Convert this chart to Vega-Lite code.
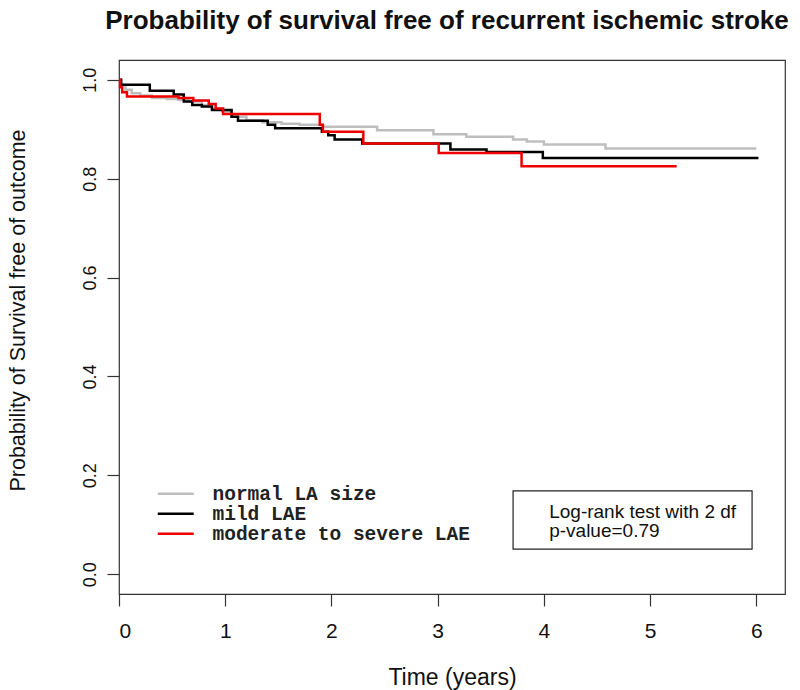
{
  "$schema": "https://vega.github.io/schema/vega-lite/v6.json",
  "width": 666,
  "height": 534,
  "autosize": "none",
  "padding": {"left": 119, "top": 60, "right": 15, "bottom": 96},
  "background": "white",
  "title": {
    "text": "Probability of survival free of recurrent ischemic stroke",
    "font": "Liberation Sans",
    "fontSize": 26,
    "fontWeight": "bold",
    "color": "#111",
    "anchor": "middle",
    "offset": 26,
    "dx": -5
  },
  "config": {
    "view": {"stroke": "#333", "strokeWidth": 1.2},
    "axis": {
      "grid": false,
      "domain": false,
      "tickColor": "#333",
      "tickSize": 12,
      "tickWidth": 1.2,
      "labelFont": "Liberation Sans",
      "labelColor": "#111",
      "titleFont": "Liberation Sans",
      "titleFontWeight": "normal",
      "titleColor": "#111"
    }
  },
  "datasets": {
    "km": [
      {"group": "normal LA size", "t": 0, "s": 1.0},
      {"group": "normal LA size", "t": 0.02, "s": 0.99},
      {"group": "normal LA size", "t": 0.06, "s": 0.98},
      {"group": "normal LA size", "t": 0.12, "s": 0.973},
      {"group": "normal LA size", "t": 0.2, "s": 0.968},
      {"group": "normal LA size", "t": 0.31, "s": 0.963},
      {"group": "normal LA size", "t": 0.45, "s": 0.961},
      {"group": "normal LA size", "t": 0.56, "s": 0.959},
      {"group": "normal LA size", "t": 0.66, "s": 0.956},
      {"group": "normal LA size", "t": 0.78, "s": 0.949},
      {"group": "normal LA size", "t": 0.875, "s": 0.942},
      {"group": "normal LA size", "t": 0.97, "s": 0.936},
      {"group": "normal LA size", "t": 1.06, "s": 0.925},
      {"group": "normal LA size", "t": 1.2, "s": 0.918},
      {"group": "normal LA size", "t": 1.35, "s": 0.914},
      {"group": "normal LA size", "t": 1.53, "s": 0.911},
      {"group": "normal LA size", "t": 1.7, "s": 0.909},
      {"group": "normal LA size", "t": 1.91, "s": 0.905},
      {"group": "normal LA size", "t": 2.43, "s": 0.898},
      {"group": "normal LA size", "t": 2.96, "s": 0.89},
      {"group": "normal LA size", "t": 3.27, "s": 0.885},
      {"group": "normal LA size", "t": 3.71, "s": 0.879},
      {"group": "normal LA size", "t": 3.84, "s": 0.875},
      {"group": "normal LA size", "t": 4.0, "s": 0.869},
      {"group": "normal LA size", "t": 4.58, "s": 0.861},
      {"group": "normal LA size", "t": 6.0, "s": 0.861},
      {"group": "mild LAE", "t": 0, "s": 1.0},
      {"group": "mild LAE", "t": 0.02, "s": 0.99},
      {"group": "mild LAE", "t": 0.29, "s": 0.978},
      {"group": "mild LAE", "t": 0.515, "s": 0.97},
      {"group": "mild LAE", "t": 0.61, "s": 0.956},
      {"group": "mild LAE", "t": 0.69, "s": 0.949},
      {"group": "mild LAE", "t": 0.78, "s": 0.946},
      {"group": "mild LAE", "t": 0.875, "s": 0.939},
      {"group": "mild LAE", "t": 1.06, "s": 0.925},
      {"group": "mild LAE", "t": 1.12, "s": 0.917},
      {"group": "mild LAE", "t": 1.4, "s": 0.909},
      {"group": "mild LAE", "t": 1.47, "s": 0.902},
      {"group": "mild LAE", "t": 1.91, "s": 0.895},
      {"group": "mild LAE", "t": 1.97, "s": 0.888},
      {"group": "mild LAE", "t": 2.03, "s": 0.879},
      {"group": "mild LAE", "t": 2.29, "s": 0.871},
      {"group": "mild LAE", "t": 3.12, "s": 0.859},
      {"group": "mild LAE", "t": 3.46, "s": 0.854},
      {"group": "mild LAE", "t": 3.99, "s": 0.842},
      {"group": "mild LAE", "t": 6.02, "s": 0.842},
      {"group": "moderate to severe LAE", "t": 0, "s": 1.0},
      {"group": "moderate to severe LAE", "t": 0.01, "s": 0.985},
      {"group": "moderate to severe LAE", "t": 0.03, "s": 0.975},
      {"group": "moderate to severe LAE", "t": 0.075, "s": 0.966},
      {"group": "moderate to severe LAE", "t": 0.56, "s": 0.963},
      {"group": "moderate to severe LAE", "t": 0.7, "s": 0.958},
      {"group": "moderate to severe LAE", "t": 0.845, "s": 0.951},
      {"group": "moderate to severe LAE", "t": 0.91, "s": 0.942},
      {"group": "moderate to severe LAE", "t": 0.98, "s": 0.931},
      {"group": "moderate to severe LAE", "t": 1.89, "s": 0.909},
      {"group": "moderate to severe LAE", "t": 1.92, "s": 0.895},
      {"group": "moderate to severe LAE", "t": 2.3, "s": 0.871},
      {"group": "moderate to severe LAE", "t": 3.01, "s": 0.852},
      {"group": "moderate to severe LAE", "t": 3.79, "s": 0.825},
      {"group": "moderate to severe LAE", "t": 5.25, "s": 0.825}
    ],
    "note": [
      {"line": "Log-rank test with 2 df"}
    ]
  },
  "layer": [
    {
      "data": {"name": "km"},
      "mark": {"type": "line", "interpolate": "step-after", "strokeWidth": 2.5},
      "encoding": {
        "x": {
          "field": "t", "type": "quantitative",
          "scale": {"domain": [0, 6.27], "nice": false, "zero": false},
          "axis": {
            "values": [0, 1, 2, 3, 4, 5, 6],
            "format": "d",
            "labelFontSize": 21,
            "labelPadding": 14,
            "title": "Time (years)",
            "titleFontSize": 23,
            "titlePadding": 25
          }
        },
        "y": {
          "field": "s", "type": "quantitative",
          "scale": {"domain": [-0.04, 1.04], "nice": false, "zero": false},
          "axis": {
            "values": [0, 0.2, 0.4, 0.6, 0.8, 1.0],
            "format": ".1f",
            "labelAngle": -90,
            "labelFontSize": 18,
            "labelPadding": 8,
            "title": "Probability of Survival free of outcome",
            "titleFontSize": 21.5,
            "titlePadding": 52,
            "titleY": 250
          }
        },
        "color": {
          "field": "group", "type": "nominal",
          "scale": {
            "domain": ["normal LA size", "mild LAE", "moderate to severe LAE"],
            "range": ["#bebebe", "#000000", "#ee0000"]
          },
          "legend": {
            "title": null,
            "orient": "none",
            "legendX": 47,
            "legendY": 424,
            "symbolType": "M-3,0H3",
            "symbolSize": 144,
            "symbolStrokeWidth": 2.5,
            "labelFont": "Liberation Mono",
            "labelFontWeight": "bold",
            "labelFontSize": 19.5,
            "labelLimit": 0,
            "labelColor": "#222",
            "labelOffset": 27,
            "rowPadding": -1
          }
        },
        "order": {"field": "t", "type": "quantitative"}
      }
    },
    {
      "data": {"name": "note"},
      "mark": {"type": "rect", "fill": "white", "fillOpacity": 0, "stroke": "#222", "strokeWidth": 1.2},
      "encoding": {
        "x": {"datum": 3.71},
        "x2": {"datum": 5.96},
        "y": {"datum": 0.1687},
        "y2": {"datum": 0.0508}
      }
    },
    {
      "data": {"name": "note"},
      "mark": {"type": "text", "align": "left", "baseline": "alphabetic", "font": "Liberation Sans", "fontSize": 19, "color": "#111"},
      "encoding": {
        "x": {"datum": 4.05},
        "y": {"datum": 0.1138},
        "text": {"value": "Log-rank test with 2 df"}
      }
    },
    {
      "data": {"name": "note"},
      "mark": {"type": "text", "align": "left", "baseline": "alphabetic", "font": "Liberation Sans", "fontSize": 19, "color": "#111"},
      "encoding": {
        "x": {"datum": 4.05},
        "y": {"datum": 0.0752},
        "text": {"value": "p-value=0.79"}
      }
    }
  ]
}
